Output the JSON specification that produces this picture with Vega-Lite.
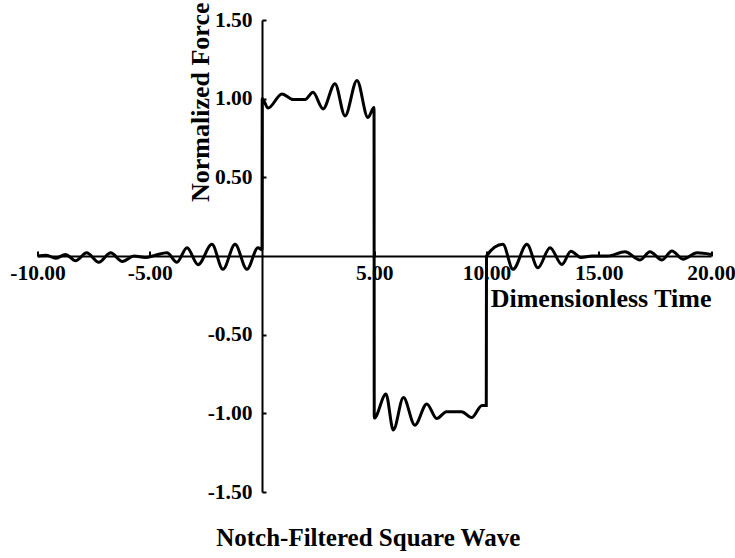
{
  "$schema": "https://vega.github.io/schema/vega-lite/v6.json",
  "width": 673.5,
  "height": 472,
  "autosize": {"type": "none"},
  "padding": {"left": 37.5, "top": 20, "right": 24, "bottom": 66},
  "background": "white",
  "config": {
    "view": {"stroke": null},
    "font": "Liberation Serif",
    "axis": {"grid": false, "domainColor": "black", "tickColor": "black", "labelColor": "black", "titleColor": "black", "domainWidth": 2, "tickWidth": 2, "labelFont": "Liberation Serif", "labelFontWeight": "bold", "labelFontSize": 21.5, "titleFont": "Liberation Serif", "titleFontWeight": "bold", "titleFontSize": 26}
  },
  "title": {"text": "Notch-Filtered Square Wave", "orient": "bottom", "frame": "group", "anchor": "middle", "offset": 23, "dx": -6, "font": "Liberation Serif", "fontWeight": "bold", "fontSize": 25, "color": "black"},
  "data": {"values": [
    {"t": -10, "f": 0.0}, {"t": -9.6, "f": 0.005}, {"t": -9.2, "f": -0.015}, {"t": -8.75, "f": 0.01},
    {"t": -8.3, "f": -0.03}, {"t": -7.81, "f": 0.02}, {"t": -7.27, "f": -0.04}, {"t": -6.74, "f": 0.02},
    {"t": -6.22, "f": -0.035}, {"t": -5.7, "f": 0.0}, {"t": -5.2, "f": -0.01}, {"t": -4.75, "f": 0.005},
    {"t": -4.23, "f": 0.02}, {"t": -3.79, "f": -0.04}, {"t": -3.34, "f": 0.053}, {"t": -2.85, "f": -0.055},
    {"t": -2.23, "f": 0.074}, {"t": -1.74, "f": -0.085}, {"t": -1.2, "f": 0.074}, {"t": -0.67, "f": -0.085},
    {"t": -0.18, "f": 0.053}, {"t": 0.0, "f": 0.04},
    {"t": 0.01, "f": 1.0}, {"t": 0.27, "f": 0.94}, {"t": 0.89, "f": 1.03}, {"t": 1.39, "f": 0.994},
    {"t": 1.92, "f": 0.994}, {"t": 2.27, "f": 1.04}, {"t": 2.72, "f": 0.935}, {"t": 3.25, "f": 1.095},
    {"t": 3.7, "f": 0.89}, {"t": 4.23, "f": 1.116}, {"t": 4.72, "f": 0.88}, {"t": 4.99, "f": 0.944},
    {"t": 5.0, "f": -1.03}, {"t": 5.52, "f": -0.877}, {"t": 5.85, "f": -1.106}, {"t": 6.3, "f": -0.9},
    {"t": 6.81, "f": -1.075}, {"t": 7.34, "f": -0.94}, {"t": 7.78, "f": -1.033}, {"t": 8.22, "f": -0.99},
    {"t": 8.89, "f": -0.99}, {"t": 9.34, "f": -1.027}, {"t": 9.8, "f": -0.95}, {"t": 9.99, "f": -0.95},
    {"t": 10.0, "f": 0.0}, {"t": 10.73, "f": 0.074}, {"t": 11.18, "f": -0.085}, {"t": 11.8, "f": 0.074},
    {"t": 12.29, "f": -0.075}, {"t": 12.83, "f": 0.053}, {"t": 13.36, "f": -0.054}, {"t": 13.76, "f": 0.03},
    {"t": 14.21, "f": -0.01}, {"t": 14.7, "f": 0.0}, {"t": 15.4, "f": 0.0}, {"t": 16.17, "f": 0.027},
    {"t": 16.84, "f": -0.025}, {"t": 17.28, "f": 0.027}, {"t": 17.82, "f": -0.025}, {"t": 18.26, "f": 0.032},
    {"t": 18.75, "f": -0.02}, {"t": 19.38, "f": 0.02}, {"t": 20.0, "f": 0.01}
  ]},
  "mark": {"type": "line", "interpolate": "monotone", "color": "black", "strokeWidth": 3},
  "encoding": {
    "x": {"field": "t", "type": "quantitative", "scale": {"domain": [-10, 20], "nice": false, "zero": false},
      "axis": {"orient": "bottom", "offset": -236, "values": [-10, -5, 5, 10, 15, 20], "tickSize": -5, "labelPadding": 11.5,
        "labelExpr": "(datum.value < 0 ? '-' : '') + format(abs(datum.value), '.2f')", "labelFlush": false, "labelOverlap": false,
        "title": "Dimensionless Time", "titleAnchor": "end", "titleAlign": "right", "titleBaseline": "alphabetic", "titleX": 673.5, "titleY": 50}},
    "y": {"field": "f", "type": "quantitative", "scale": {"domain": [-1.5, 1.5], "nice": false, "zero": false},
      "axis": {"orient": "left", "offset": -224.5, "values": [-1.5, -1, -0.5, 0.5, 1, 1.5], "tickSize": -4, "labelPadding": 14,
        "labelExpr": "(datum.value < 0 ? '-' : '') + format(abs(datum.value), '.2f')", "labelFlush": false, "labelOverlap": false,
        "title": "Normalized Force", "titleAngle": -90, "titleAlign": "right", "titleBaseline": "alphabetic", "titleX": -54, "titleY": -18}}
  }
}
